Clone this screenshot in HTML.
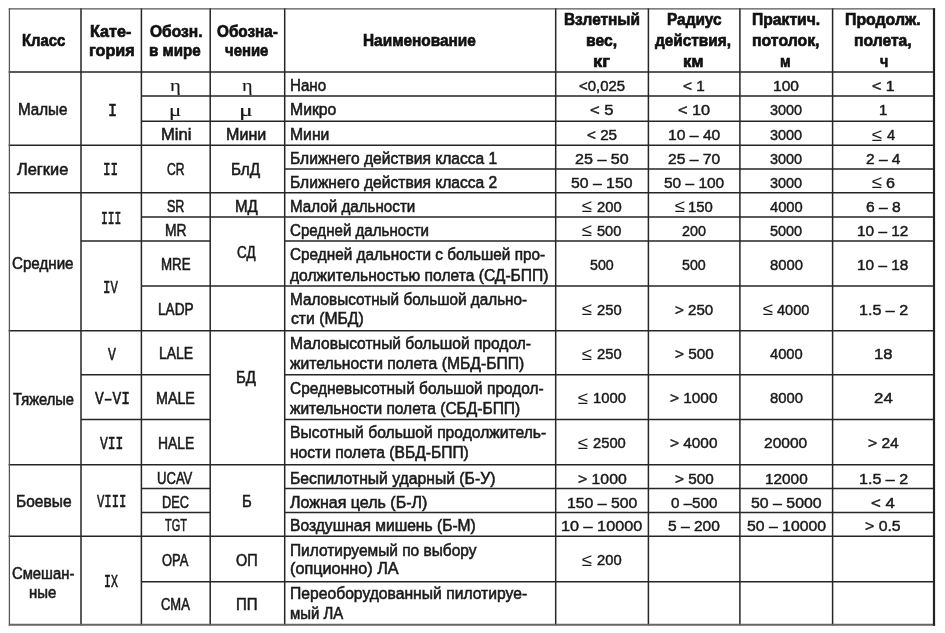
<!DOCTYPE html>
<html lang="ru"><head><meta charset="utf-8"><title>Классификация БЛА</title>
<style>
html,body{margin:0;padding:0;background:#fff;}
body{width:945px;height:633px;position:relative;overflow:hidden;font-family:"Liberation Sans",sans-serif;color:#1a1a1a;}
.g{position:absolute;left:0;top:0;}
.t{position:absolute;white-space:nowrap;line-height:20px;transform-origin:0 0;font-size:17.1px;-webkit-text-stroke:0.6px #1a1a1a;}
.n{font-size:15.0px;-webkit-text-stroke:0.45px #1a1a1a;}
.le{font-size:18px;-webkit-text-stroke:0;}
.b{font-weight:bold;font-size:17.4px;-webkit-text-stroke:0.7px #111;color:#111;}
.m{font-family:"Liberation Mono",monospace;font-size:18.6px;}
.s{font-family:"Liberation Serif",serif;font-size:17px;-webkit-text-stroke:0.15px #1a1a1a;}
#w{position:absolute;left:0;top:0;width:945px;height:633px;filter:blur(0.4px);}
</style></head><body><div id="w">
<svg class="g" width="945" height="633" viewBox="0 0 945 633" fill="none"><path d="M81.00 8.05V625.50M141.40 8.05V625.50M210.20 8.05V625.50M284.70 8.05V625.50M555.70 8.05V625.50M648.40 8.05V625.50M739.90 8.05V625.50M832.60 8.05V625.50M8.65 72.00H934.75M8.65 145.20H934.75M8.65 192.70H934.75M8.65 330.80H934.75M8.65 464.70H934.75M8.65 536.30H934.75M80.25 241.10H142.15M80.25 374.80H142.15M80.25 419.40H142.15M140.65 96.00H210.95M140.65 121.30H210.95M140.65 145.20H210.95M140.65 192.70H210.95M140.65 217.00H210.95M140.65 241.10H210.95M140.65 285.90H210.95M140.65 330.80H210.95M140.65 374.80H210.95M140.65 419.40H210.95M140.65 464.70H210.95M140.65 488.60H210.95M140.65 512.40H210.95M140.65 536.30H210.95M140.65 581.70H210.95M209.45 96.00H285.45M209.45 121.30H285.45M209.45 217.00H285.45M209.45 285.90H285.45M209.45 581.70H285.45M283.95 96.00H934.75M283.95 121.30H934.75M283.95 145.20H934.75M283.95 169.00H934.75M283.95 192.70H934.75M283.95 217.00H934.75M283.95 241.10H934.75M283.95 285.90H934.75M283.95 330.80H934.75M283.95 374.80H934.75M283.95 419.40H934.75M283.95 464.70H934.75M283.95 488.60H934.75M283.95 512.40H934.75M283.95 536.30H934.75M283.95 581.70H934.75" stroke="#262626" stroke-width="1.5"/><path d="M9.40 8.20V625.65" stroke="#555" stroke-width="1.25"/><path d="M8.80 8.80H935.10" stroke="#555" stroke-width="1.25"/><path d="M8.80 624.75H935.10" stroke="#666" stroke-width="1.8"/><path d="M934.00 8.20V625.65" stroke="#222" stroke-width="2.2"/></svg>
<div class="t b" style="left:22.02px;top:30px;transform:scaleX(0.8560)">Класс</div>
<div class="t b" style="left:90.44px;top:21px;transform:scaleX(0.9302)">Кате-</div>
<div class="t b" style="left:88.94px;top:40px;transform:scaleX(0.9326)">гория</div>
<div class="t b" style="left:149.86px;top:21px;transform:scaleX(0.8949)">Обозн.</div>
<div class="t b" style="left:149.40px;top:40px;transform:scaleX(0.8707)">в мире</div>
<div class="t b" style="left:216.57px;top:21px;transform:scaleX(0.8791)">Обозна-</div>
<div class="t b" style="left:225.48px;top:40px;transform:scaleX(0.8574)">чение</div>
<div class="t b" style="left:363.09px;top:30px;transform:scaleX(0.8848)">Наименование</div>
<div class="t b" style="left:563.59px;top:9px;transform:scaleX(0.8854)">Взлетный</div>
<div class="t b" style="left:586.17px;top:30px;transform:scaleX(0.9037)">вес,</div>
<div class="t b" style="left:593.00px;top:51px;transform:scaleX(1.0542)">кг</div>
<div class="t b" style="left:666.69px;top:9px;transform:scaleX(0.8855)">Радиус</div>
<div class="t b" style="left:655.35px;top:30px;transform:scaleX(0.8838)">действия,</div>
<div class="t b" style="left:683.11px;top:51px;transform:scaleX(0.9528)">км</div>
<div class="t b" style="left:752.17px;top:9px;transform:scaleX(0.9013)">Практич.</div>
<div class="t b" style="left:752.16px;top:30px;transform:scaleX(0.9102)">потолок,</div>
<div class="t b" style="left:780.15px;top:51px;transform:scaleX(0.8299)">м</div>
<div class="t b" style="left:844.96px;top:9px;transform:scaleX(0.9112)">Продолж.</div>
<div class="t b" style="left:854.47px;top:30px;transform:scaleX(0.9015)">полета,</div>
<div class="t b" style="left:879.50px;top:51px;transform:scaleX(0.8187)">ч</div>
<div class="t" style="left:18.42px;top:100px;transform:scaleX(0.8865)">Малые</div>
<div class="t" style="left:17.30px;top:160px;transform:scaleX(0.9580)">Легкие</div>
<div class="t" style="left:12.49px;top:254px;transform:scaleX(0.8855)">Средние</div>
<div class="t" style="left:12.97px;top:390px;transform:scaleX(0.8607)">Тяжелые</div>
<div class="t" style="left:15.99px;top:492px;transform:scaleX(0.9087)">Боевые</div>
<div class="t" style="left:11.91px;top:564px;transform:scaleX(0.8659)">Смешан-</div>
<div class="t" style="left:29.36px;top:583px;transform:scaleX(0.8751)">ные</div>
<div class="t m" style="left:107.58px;top:102px;transform:scaleX(0.8156)">I</div>
<div class="t m" style="left:103.22px;top:161px;transform:scaleX(0.6786)">II</div>
<div class="t m" style="left:100.54px;top:210px;transform:scaleX(0.6099)">III</div>
<div class="t m" style="left:102.84px;top:279px;transform:scaleX(0.6650)">IV</div>
<div class="t m" style="left:107.70px;top:346px;transform:scaleX(0.7058)">V</div>
<div class="t m" style="left:94.80px;top:390px;transform:scaleX(0.7847)">V–VI</div>
<div class="t m" style="left:100.00px;top:435px;transform:scaleX(0.6987)">VII</div>
<div class="t m" style="left:97.20px;top:493px;transform:scaleX(0.6570)">VIII</div>
<div class="t m" style="left:103.92px;top:573px;transform:scaleX(0.6207)">IX</div>
<div class="t s" style="left:170.35px;top:76px;transform:scaleX(1.2110)">η</div>
<div class="t s" style="left:169.09px;top:101px;transform:scaleX(1.3455)">μ</div>
<div class="t" style="left:160.81px;top:125px;transform:scaleX(0.9692)">Mini</div>
<div class="t" style="left:166.63px;top:160px;transform:scaleX(0.7080)">CR</div>
<div class="t" style="left:166.71px;top:197px;transform:scaleX(0.7336)">SR</div>
<div class="t" style="left:164.92px;top:221px;transform:scaleX(0.8109)">MR</div>
<div class="t" style="left:160.96px;top:255px;transform:scaleX(0.7790)">MRE</div>
<div class="t" style="left:157.93px;top:300px;transform:scaleX(0.7978)">LADP</div>
<div class="t" style="left:158.81px;top:344px;transform:scaleX(0.8170)">LALE</div>
<div class="t" style="left:156.28px;top:389px;transform:scaleX(0.8357)">MALE</div>
<div class="t" style="left:157.82px;top:434px;transform:scaleX(0.8119)">HALE</div>
<div class="t" style="left:157.38px;top:469px;transform:scaleX(0.7646)">UCAV</div>
<div class="t" style="left:162.40px;top:493px;transform:scaleX(0.7462)">DEC</div>
<div class="t" style="left:164.73px;top:516px;transform:scaleX(0.6422)">TGT</div>
<div class="t" style="left:162.49px;top:551px;transform:scaleX(0.7560)">OPA</div>
<div class="t" style="left:161.09px;top:595px;transform:scaleX(0.7591)">CMA</div>
<div class="t s" style="left:241.56px;top:76px;transform:scaleX(1.1859)">η</div>
<div class="t s" style="left:239.07px;top:101px;transform:scaleX(1.5129)">μ</div>
<div class="t" style="left:226.14px;top:125px;transform:scaleX(0.9418)">Мини</div>
<div class="t" style="left:231.40px;top:160px;transform:scaleX(0.8954)">БлД</div>
<div class="t" style="left:234.82px;top:197px;transform:scaleX(0.8812)">МД</div>
<div class="t" style="left:237.47px;top:243px;transform:scaleX(0.7855)">СД</div>
<div class="t" style="left:236.03px;top:368px;transform:scaleX(0.8749)">БД</div>
<div class="t" style="left:241.54px;top:492px;transform:scaleX(0.8696)">Б</div>
<div class="t" style="left:235.72px;top:551px;transform:scaleX(0.8442)">ОП</div>
<div class="t" style="left:235.94px;top:595px;transform:scaleX(0.8718)">ПП</div>
<div class="t" style="left:290.02px;top:76px;transform:scaleX(0.8844)">Нано</div>
<div class="t" style="left:289.97px;top:100px;transform:scaleX(0.9219)">Микро</div>
<div class="t" style="left:289.97px;top:125px;transform:scaleX(0.9196)">Мини</div>
<div class="t" style="left:289.98px;top:149px;transform:scaleX(0.9127)">Ближнего действия класса 1</div>
<div class="t" style="left:289.98px;top:173px;transform:scaleX(0.9127)">Ближнего действия класса 2</div>
<div class="t" style="left:290.01px;top:197px;transform:scaleX(0.8880)">Малой дальности</div>
<div class="t" style="left:290.49px;top:221px;transform:scaleX(0.8832)">Средней дальности</div>
<div class="t" style="left:290.48px;top:245px;transform:scaleX(0.8958)">Средней дальности с большей про-</div>
<div class="t" style="left:290.20px;top:266px;transform:scaleX(0.9137)">должительностью полета (СД-БПП)</div>
<div class="t" style="left:290.00px;top:290px;transform:scaleX(0.8949)">Маловысотный большой дально-</div>
<div class="t" style="left:290.71px;top:309px;transform:scaleX(0.9189)">сти (МБД)</div>
<div class="t" style="left:289.98px;top:334px;transform:scaleX(0.9105)">Маловысотный большой продол-</div>
<div class="t" style="left:290.20px;top:354px;transform:scaleX(0.9180)">жительности полета (МБД-БПП)</div>
<div class="t" style="left:290.48px;top:379px;transform:scaleX(0.9025)">Средневысотный большой продол-</div>
<div class="t" style="left:290.20px;top:399px;transform:scaleX(0.9090)">жительности полета (СБД-БПП)</div>
<div class="t" style="left:289.98px;top:423px;transform:scaleX(0.9155)">Высотный большой продолжитель-</div>
<div class="t" style="left:290.22px;top:443px;transform:scaleX(0.9129)">ности полета (ВБД-БПП)</div>
<div class="t" style="left:289.97px;top:469px;transform:scaleX(0.9194)">Беспилотный ударный (Б-У)</div>
<div class="t" style="left:290.20px;top:493px;transform:scaleX(0.9371)">Ложная цель (Б-Л)</div>
<div class="t" style="left:289.98px;top:516px;transform:scaleX(0.9128)">Воздушная мишень (Б-М)</div>
<div class="t" style="left:289.99px;top:541px;transform:scaleX(0.9048)">Пилотируемый по выбору</div>
<div class="t" style="left:290.44px;top:559px;transform:scaleX(0.9459)">(опционно) ЛА</div>
<div class="t" style="left:289.97px;top:584px;transform:scaleX(0.9173)">Переоборудованный пилотируе-</div>
<div class="t" style="left:290.27px;top:604px;transform:scaleX(0.8735)">мый ЛА</div>
<div class="t n" style="left:578.98px;top:76px;transform:scaleX(0.9948)">&lt;0,025</div>
<div class="t n" style="left:590.25px;top:100px;transform:scaleX(1.1048)">&lt; 5</div>
<div class="t n" style="left:586.96px;top:125px;transform:scaleX(1.0159)">&lt; 25</div>
<div class="t n" style="left:575.02px;top:149px;transform:scaleX(1.0731)">25 – 50</div>
<div class="t n" style="left:571.28px;top:173px;transform:scaleX(1.0522)">50 – 150</div>
<div class="t le" style="left:582.41px;top:196px;transform:scaleX(1.0343)">≤</div>
<div class="t n" style="left:596.93px;top:197px;transform:scaleX(0.9833)">200</div>
<div class="t le" style="left:582.41px;top:220px;transform:scaleX(1.0343)">≤</div>
<div class="t n" style="left:597.17px;top:221px;transform:scaleX(0.9738)">500</div>
<div class="t n" style="left:590.13px;top:255px;transform:scaleX(0.9490)">500</div>
<div class="t le" style="left:582.41px;top:299px;transform:scaleX(1.0343)">≤</div>
<div class="t n" style="left:596.93px;top:300px;transform:scaleX(0.9833)">250</div>
<div class="t le" style="left:582.41px;top:344px;transform:scaleX(1.0343)">≤</div>
<div class="t n" style="left:596.93px;top:344px;transform:scaleX(0.9833)">250</div>
<div class="t le" style="left:577.76px;top:388px;transform:scaleX(1.0343)">≤</div>
<div class="t n" style="left:593.15px;top:388px;transform:scaleX(0.9904)">1000</div>
<div class="t le" style="left:577.76px;top:433px;transform:scaleX(1.0343)">≤</div>
<div class="t n" style="left:593.38px;top:433px;transform:scaleX(0.9832)">2500</div>
<div class="t n" style="left:577.54px;top:469px;transform:scaleX(1.0515)">&gt; 1000</div>
<div class="t n" style="left:566.59px;top:493px;transform:scaleX(1.0540)">150 – 500</div>
<div class="t n" style="left:561.11px;top:516px;transform:scaleX(1.0825)">10 – 10000</div>
<div class="t le" style="left:582.41px;top:550px;transform:scaleX(1.0343)">≤</div>
<div class="t n" style="left:596.93px;top:550px;transform:scaleX(0.9833)">200</div>
<div class="t n" style="left:683.20px;top:76px;transform:scaleX(1.0246)">&lt; 1</div>
<div class="t n" style="left:677.91px;top:100px;transform:scaleX(1.0846)">&lt; 10</div>
<div class="t n" style="left:667.69px;top:125px;transform:scaleX(1.0454)">10 – 40</div>
<div class="t n" style="left:667.94px;top:149px;transform:scaleX(1.0404)">25 – 70</div>
<div class="t n" style="left:663.99px;top:173px;transform:scaleX(1.0313)">50 – 100</div>
<div class="t le" style="left:674.86px;top:196px;transform:scaleX(1.0343)">≤</div>
<div class="t n" style="left:688.44px;top:197px;transform:scaleX(0.9930)">150</div>
<div class="t n" style="left:682.00px;top:221px;transform:scaleX(0.9582)">200</div>
<div class="t n" style="left:682.23px;top:255px;transform:scaleX(0.9490)">500</div>
<div class="t n" style="left:674.87px;top:300px;transform:scaleX(1.0074)">&gt; 250</div>
<div class="t n" style="left:674.66px;top:344px;transform:scaleX(1.0182)">&gt; 500</div>
<div class="t n" style="left:670.25px;top:388px;transform:scaleX(1.0250)">&gt; 1000</div>
<div class="t n" style="left:670.25px;top:433px;transform:scaleX(1.0250)">&gt; 4000</div>
<div class="t n" style="left:674.66px;top:469px;transform:scaleX(1.0182)">&gt; 500</div>
<div class="t n" style="left:670.90px;top:493px;transform:scaleX(1.0114)">0 –500</div>
<div class="t n" style="left:668.19px;top:516px;transform:scaleX(1.0355)">5 – 200</div>
<div class="t n" style="left:773.00px;top:76px;transform:scaleX(1.0352)">100</div>
<div class="t n" style="left:770.12px;top:100px;transform:scaleX(0.9638)">3000</div>
<div class="t n" style="left:770.12px;top:125px;transform:scaleX(0.9638)">3000</div>
<div class="t n" style="left:770.12px;top:149px;transform:scaleX(0.9638)">3000</div>
<div class="t n" style="left:770.12px;top:173px;transform:scaleX(0.9638)">3000</div>
<div class="t n" style="left:769.94px;top:197px;transform:scaleX(0.9813)">4000</div>
<div class="t n" style="left:770.12px;top:221px;transform:scaleX(0.9638)">5000</div>
<div class="t n" style="left:769.71px;top:255px;transform:scaleX(0.9884)">8000</div>
<div class="t le" style="left:762.96px;top:299px;transform:scaleX(1.0343)">≤</div>
<div class="t n" style="left:777.05px;top:300px;transform:scaleX(0.9691)">4000</div>
<div class="t n" style="left:769.94px;top:344px;transform:scaleX(0.9813)">4000</div>
<div class="t n" style="left:769.71px;top:388px;transform:scaleX(0.9884)">8000</div>
<div class="t n" style="left:764.45px;top:433px;transform:scaleX(1.0373)">20000</div>
<div class="t n" style="left:764.62px;top:469px;transform:scaleX(1.0235)">12000</div>
<div class="t n" style="left:750.88px;top:493px;transform:scaleX(1.0586)">50 – 5000</div>
<div class="t n" style="left:746.68px;top:516px;transform:scaleX(1.0528)">50 – 10000</div>
<div class="t n" style="left:871.93px;top:76px;transform:scaleX(1.0647)">&lt; 1</div>
<div class="t n" style="left:878.96px;top:100px;transform:scaleX(1.0000)">1</div>
<div class="t le" style="left:871.51px;top:125px;transform:scaleX(1.0343)">≤</div>
<div class="t n" style="left:886.80px;top:125px;transform:scaleX(0.9762)">4</div>
<div class="t n" style="left:865.90px;top:149px;transform:scaleX(1.0330)">2 – 4</div>
<div class="t le" style="left:871.51px;top:172px;transform:scaleX(1.0343)">≤</div>
<div class="t n" style="left:886.27px;top:173px;transform:scaleX(1.0738)">6</div>
<div class="t n" style="left:865.89px;top:197px;transform:scaleX(1.0405)">6 – 8</div>
<div class="t n" style="left:857.46px;top:221px;transform:scaleX(1.0258)">10 – 12</div>
<div class="t n" style="left:857.46px;top:255px;transform:scaleX(1.0258)">10 – 18</div>
<div class="t n" style="left:858.52px;top:300px;transform:scaleX(1.0727)">1.5 – 2</div>
<div class="t n" style="left:873.89px;top:344px;transform:scaleX(1.1064)">18</div>
<div class="t n" style="left:873.73px;top:388px;transform:scaleX(1.1244)">24</div>
<div class="t n" style="left:867.74px;top:433px;transform:scaleX(1.0391)">&gt; 24</div>
<div class="t n" style="left:858.52px;top:469px;transform:scaleX(1.0727)">1.5 – 2</div>
<div class="t n" style="left:871.24px;top:493px;transform:scaleX(1.1167)">&lt; 4</div>
<div class="t n" style="left:865.43px;top:516px;transform:scaleX(1.0549)">&gt; 0.5</div>
</div></body></html>
